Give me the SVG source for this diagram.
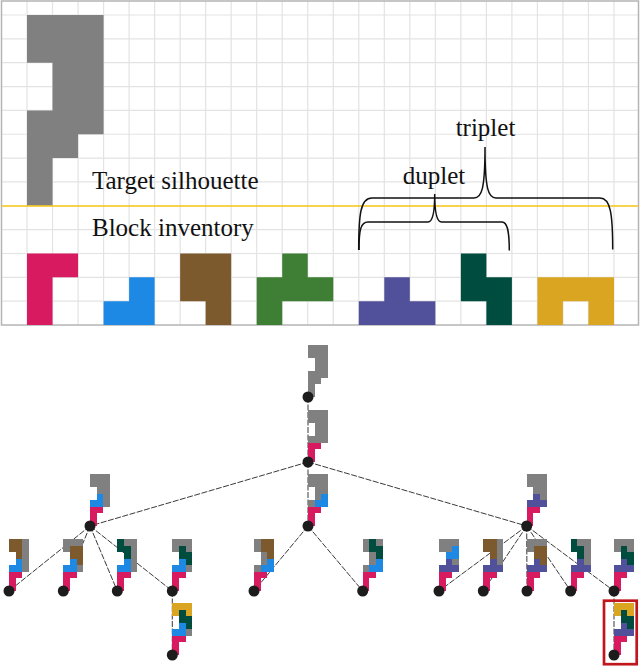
<svg xmlns="http://www.w3.org/2000/svg" xmlns:xlink="http://www.w3.org/1999/xlink" width="640" height="667" viewBox="0 0 640 667">
<style>
.gr{fill:#808080}.pk{fill:#d81b60}.bl{fill:#1e88e5}.br{fill:#7c5a2e}.gn{fill:#3f7e35}.pu{fill:#51509a}.dg{fill:#004d40}.yl{fill:#daa520}
.grid{stroke:#e3e3e3;stroke-width:1.2;fill:none}
.lbl{font-family:"Liberation Serif","Times New Roman",serif;font-size:25px;fill:#111}
.brace{fill:none;stroke:#111;stroke-width:1.5}
.edge{stroke:#3a3a3a;stroke-width:1;stroke-dasharray:6 1.5;fill:none}
.dot{fill:#1c1c1c}
.fig{shape-rendering:crispEdges}
</style>
<defs>
<path id="sil" d="M0,0H3V5H2V6H1V8H0V4H1V2H0Z"/>
<path id="pink" d="M0,0H2V1H1V3H0Z"/>
<path id="blue" d="M1,0H2V2H0V1H1Z"/>
<path id="brown" d="M0,0H2V3H1V2H0Z"/>
<path id="green" d="M1,0H2V1H3V2H1V3H0V1H1Z"/>
<path id="purple" d="M1,0H2V1H3V2H0V1H1Z"/>
<path id="dkgreen" d="M0,0H1V1H2V3H1V2H0Z"/>
<path id="gold" d="M0,0H3V2H2V1H1V2H0Z"/>
</defs>
<rect x="0" y="0" width="640" height="667" fill="#fff"/>
<g id="panel">
<path class="grid" d="M27.02,1V325M52.54,1V325M78.06,1V325M103.58,1V325M129.1,1V325M154.62,1V325M180.14,1V325M205.66,1V325M231.18,1V325M256.7,1V325M282.22,1V325M307.74,1V325M333.26,1V325M358.78,1V325M384.3,1V325M409.82,1V325M435.34,1V325M460.86,1V325M486.38,1V325M511.9,1V325M537.42,1V325M562.94,1V325M588.46,1V325M613.98,1V325M1.5,15H638.5M1.5,38.85H638.5M1.5,62.7H638.5M1.5,86.55H638.5M1.5,110.4H638.5M1.5,134.25H638.5M1.5,158.1H638.5M1.5,181.95H638.5M1.5,229.65H638.5M1.5,253.5H638.5M1.5,277.35H638.5M1.5,301.2H638.5"/>
<rect x="1.5" y="1" width="637" height="324" fill="none" stroke="#b4b4b4" stroke-width="1.5"/>
</g>
<g id="target" transform="translate(1.5,15) scale(25.52,23.85)">
<use xlink:href="#sil" class="gr" x="1" y="0"/>
</g>
<line id="divider" x1="1.5" y1="206" x2="638.5" y2="206" stroke="#f6c413" stroke-width="1.6"/>
<g id="inventory" transform="translate(1.5,15) scale(25.52,23.85)">
<use xlink:href="#pink" class="pk" x="1" y="10"/>
<use xlink:href="#blue" class="bl" x="4" y="11"/>
<use xlink:href="#brown" class="br" x="7" y="10"/>
<use xlink:href="#green" class="gn" x="10" y="10"/>
<use xlink:href="#purple" class="pu" x="14" y="11"/>
<use xlink:href="#dkgreen" class="dg" x="18" y="10"/>
<use xlink:href="#gold" class="yl" x="21" y="11"/>
</g>
<g id="labels">
<text class="lbl" x="92" y="188.5">Target silhouette</text>
<text class="lbl" x="92" y="236">Block inventory</text>
<text class="lbl" x="434" y="184" text-anchor="middle">duplet</text>
<text class="lbl" x="485.5" y="136" text-anchor="middle">triplet</text>
</g>
<g id="braces">
<path class="brace" d="M358.7,250C358.7,214 360.5,198 372,198L474,198C481.5,198 485,190 485,147C485,190 488.5,198 496,198L600,198C610.5,198 612.7,214 612.7,249.5"/>
<path class="brace" d="M359,250C359,229 361,222 368,222L428,222C432.5,222 434.7,214 434.7,194C434.7,214 437,222 441.5,222L502,222C507,222 509.3,230 509.3,250.5"/>
</g>
<g id="edges">
<line class="edge" x1="308" y1="397" x2="308" y2="462"/>
<line class="edge" x1="308" y1="462" x2="90" y2="526"/>
<line class="edge" x1="308" y1="462" x2="308" y2="526"/>
<line class="edge" x1="308" y1="462" x2="526.7" y2="526"/>
<line class="edge" x1="90" y1="526" x2="9" y2="591"/>
<line class="edge" x1="90" y1="526" x2="63.3" y2="591"/>
<line class="edge" x1="90" y1="526" x2="117.3" y2="591"/>
<line class="edge" x1="90" y1="526" x2="172.3" y2="591"/>
<line class="edge" x1="172.3" y1="591" x2="172.3" y2="655"/>
<line class="edge" x1="308" y1="526" x2="254" y2="591"/>
<line class="edge" x1="308" y1="526" x2="362.7" y2="591"/>
<line class="edge" x1="526.7" y1="526" x2="439" y2="591"/>
<line class="edge" x1="526.7" y1="526" x2="483.3" y2="591"/>
<line class="edge" x1="526.7" y1="526" x2="527" y2="591"/>
<line class="edge" x1="526.7" y1="526" x2="570.7" y2="591"/>
<line class="edge" x1="526.7" y1="526" x2="614" y2="591"/>
<line class="edge" x1="614" y1="591" x2="614" y2="655"/>
</g>
<g id="n-root"><g class="fig" transform="translate(308,345) scale(6.67,6.5)"><use xlink:href="#sil" class="gr"/></g><circle class="dot" cx="308" cy="397" r="5.5"/></g>
<g id="n-1"><g class="fig" transform="translate(308,410) scale(6.67,6.5)"><use xlink:href="#sil" class="gr"/><use xlink:href="#pink" class="pk" y="5"/></g><circle class="dot" cx="308" cy="462" r="5.5"/></g>
<g id="n-A"><g class="fig" transform="translate(90,474) scale(6.67,6.5)"><use xlink:href="#sil" class="gr"/><use xlink:href="#pink" class="pk" y="5"/><use xlink:href="#blue" class="bl" y="3"/></g><circle class="dot" cx="90" cy="526" r="5.5"/></g>
<g id="n-B"><g class="fig" transform="translate(308,474) scale(6.67,6.5)"><use xlink:href="#sil" class="gr"/><use xlink:href="#pink" class="pk" y="5"/><use xlink:href="#blue" class="bl" x="1" y="3"/></g><circle class="dot" cx="308" cy="526" r="5.5"/></g>
<g id="n-C"><g class="fig" transform="translate(526.7,474) scale(6.67,6.5)"><use xlink:href="#sil" class="gr"/><use xlink:href="#pink" class="pk" y="5"/><use xlink:href="#purple" class="pu" y="3"/></g><circle class="dot" cx="526.7" cy="526" r="5.5"/></g>
<g id="n-A1"><g class="fig" transform="translate(9,539) scale(6.67,6.5)"><use xlink:href="#sil" class="gr"/><use xlink:href="#pink" class="pk" y="5"/><use xlink:href="#blue" class="bl" y="3"/><use xlink:href="#brown" class="br"/></g><circle class="dot" cx="9" cy="591" r="5.5"/></g>
<g id="n-A2"><g class="fig" transform="translate(63.3,539) scale(6.67,6.5)"><use xlink:href="#sil" class="gr"/><use xlink:href="#pink" class="pk" y="5"/><use xlink:href="#blue" class="bl" y="3"/><use xlink:href="#brown" class="br" x="1" y="1"/></g><circle class="dot" cx="63.3" cy="591" r="5.5"/></g>
<g id="n-A3"><g class="fig" transform="translate(117.3,539) scale(6.67,6.5)"><use xlink:href="#sil" class="gr"/><use xlink:href="#pink" class="pk" y="5"/><use xlink:href="#blue" class="bl" y="3"/><use xlink:href="#dkgreen" class="dg"/></g><circle class="dot" cx="117.3" cy="591" r="5.5"/></g>
<g id="n-A4"><g class="fig" transform="translate(172.3,539) scale(6.67,6.5)"><use xlink:href="#sil" class="gr"/><use xlink:href="#pink" class="pk" y="5"/><use xlink:href="#blue" class="bl" y="3"/><use xlink:href="#dkgreen" class="dg" x="1" y="1"/></g><circle class="dot" cx="172.3" cy="591" r="5.5"/></g>
<g id="n-A4a"><g class="fig" transform="translate(172.3,603) scale(6.67,6.5)"><use xlink:href="#sil" class="gr"/><use xlink:href="#pink" class="pk" y="5"/><use xlink:href="#blue" class="bl" y="3"/><use xlink:href="#dkgreen" class="dg" x="1" y="1"/><use xlink:href="#gold" class="yl"/></g><circle class="dot" cx="172.3" cy="655" r="5.5"/></g>
<g id="n-B1"><g class="fig" transform="translate(254,539) scale(6.67,6.5)"><use xlink:href="#sil" class="gr"/><use xlink:href="#pink" class="pk" y="5"/><use xlink:href="#blue" class="bl" x="1" y="3"/><use xlink:href="#brown" class="br" x="1"/></g><circle class="dot" cx="254" cy="591" r="5.5"/></g>
<g id="n-B2"><g class="fig" transform="translate(362.7,539) scale(6.67,6.5)"><use xlink:href="#sil" class="gr"/><use xlink:href="#pink" class="pk" y="5"/><use xlink:href="#blue" class="bl" x="1" y="3"/><use xlink:href="#dkgreen" class="dg" x="1"/></g><circle class="dot" cx="362.7" cy="591" r="5.5"/></g>
<g id="n-C1"><g class="fig" transform="translate(439,539) scale(6.67,6.5)"><use xlink:href="#sil" class="gr"/><use xlink:href="#pink" class="pk" y="5"/><use xlink:href="#purple" class="pu" y="3"/><use xlink:href="#blue" class="bl" x="1" y="1"/></g><circle class="dot" cx="439" cy="591" r="5.5"/></g>
<g id="n-C2"><g class="fig" transform="translate(483.3,539) scale(6.67,6.5)"><use xlink:href="#sil" class="gr"/><use xlink:href="#pink" class="pk" y="5"/><use xlink:href="#purple" class="pu" y="3"/><use xlink:href="#brown" class="br"/></g><circle class="dot" cx="483.3" cy="591" r="5.5"/></g>
<g id="n-C3"><g class="fig" transform="translate(527,539) scale(6.67,6.5)"><use xlink:href="#sil" class="gr"/><use xlink:href="#pink" class="pk" y="5"/><use xlink:href="#purple" class="pu" y="3"/><use xlink:href="#brown" class="br" x="1" y="1"/></g><circle class="dot" cx="527" cy="591" r="5.5"/></g>
<g id="n-C4"><g class="fig" transform="translate(570.7,539) scale(6.67,6.5)"><use xlink:href="#sil" class="gr"/><use xlink:href="#pink" class="pk" y="5"/><use xlink:href="#purple" class="pu" y="3"/><use xlink:href="#dkgreen" class="dg"/></g><circle class="dot" cx="570.7" cy="591" r="5.5"/></g>
<g id="n-C5"><g class="fig" transform="translate(614,539) scale(6.67,6.5)"><use xlink:href="#sil" class="gr"/><use xlink:href="#pink" class="pk" y="5"/><use xlink:href="#purple" class="pu" y="3"/><use xlink:href="#dkgreen" class="dg" x="1" y="1"/></g><circle class="dot" cx="614" cy="591" r="5.5"/></g>
<g id="n-C5a"><g class="fig" transform="translate(614,603) scale(6.67,6.5)"><use xlink:href="#sil" class="gr"/><use xlink:href="#pink" class="pk" y="5"/><use xlink:href="#purple" class="pu" y="3"/><use xlink:href="#dkgreen" class="dg" x="1" y="1"/><use xlink:href="#gold" class="yl"/></g><circle class="dot" cx="614" cy="655" r="5.5"/></g>
<rect id="solution-box" x="604" y="600.7" width="32.7" height="63.5" fill="none" stroke="#c0171d" stroke-width="2.7"/>
</svg>
